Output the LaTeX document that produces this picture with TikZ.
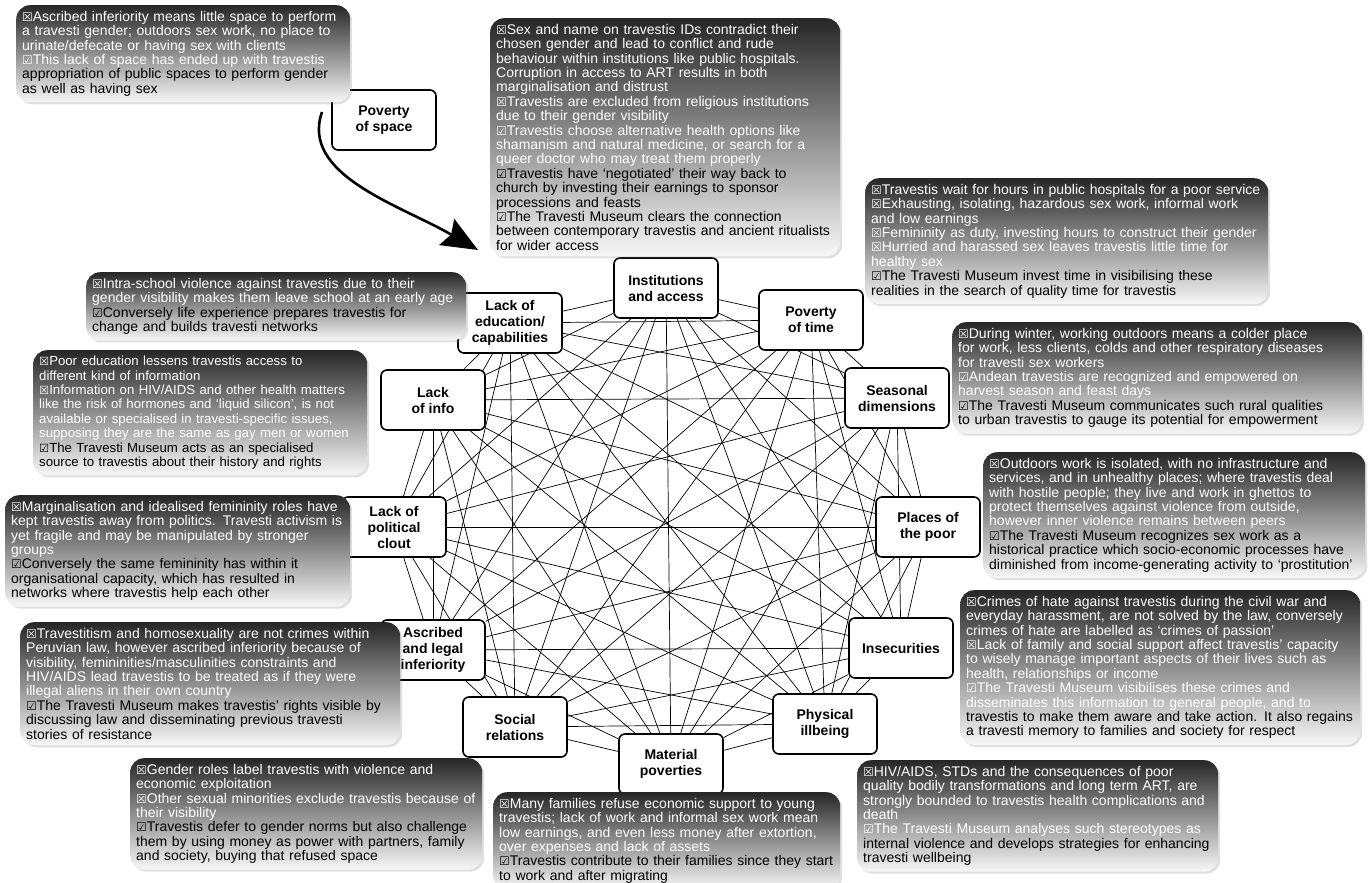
\documentclass[tikz,border=0pt]{standalone}
\usepackage{fontspec}
\setmainfont{Liberation Sans}
\newfontfamily\symfont[Scale=0.85]{DejaVu Sans}
\usetikzlibrary{arrows.meta,backgrounds,shadows}
\newcommand{\nocheck}{{\symfont ☒}}
\newcommand{\yescheck}{{\symfont ☑}}
\hyphenpenalty=10000
\exhyphenpenalty=10000

\begin{document}
\begin{tikzpicture}[
        x=1pt,
        y=-1pt,
        every node/.style={font=\fontsize{14}{14.4}\selectfont},
        factor/.style={
            draw,
            line width=1.6pt,
            rounded corners=6pt,
            fill=white,
            align=center,
            minimum width=104pt,
            minimum height=60pt,
            inner sep=2pt,
            font=\fontsize{14}{16}\selectfont\bfseries
        },
        note/.style={
            anchor=north west,
            rounded corners=14pt,
            top color=black!85,
            bottom color=black!3,
            text=white,
            align=left,
            inner xsep=6pt,
            inner ysep=6pt,
            drop shadow={opacity=0.25, shadow xshift=2pt, shadow yshift=-2pt}
        },
        link/.style={line width=0.7pt},
        bigarrow/.style={line width=2.6pt, -{Stealth[length=36pt,width=30pt,inset=5pt]}}
    ]
    \useasboundingbox (0,0) rectangle (1368,883);

    % Factors
    \node[factor] (inst) at (666,288) {Institutions\\and access};
    \node[factor] (time) at (811,320) {Poverty\\of time};
    \node[factor] (season) at (897,398) {Seasonal\\dimensions};
    \node[factor] (places) at (928,527) {Places of\\the poor};
    \node[factor] (insec) at (901,648) {Insecurities};
    \node[factor] (phys) at (825,724) {Physical\\illbeing};
    \node[factor] (mat) at (671,764) {Material\\poverties};
    \node[factor] (social) at (515,727) {Social\\relations};
    \node[factor] (ascr) at (433,650) {Ascribed\\and legal\\inferiority};
    \node[factor] (polit) at (394,527) {Lack of\\political\\clout};
    \node[factor] (info) at (433,400) {Lack\\of info};
    \node[factor] (edu) at (510,323) {Lack of\\education/\\capabilities};
    \node[factor] (space) at (384,120) {Poverty\\of space};

    % Links between all factors
    \begin{pgfonlayer}{background}
    \foreach \a [count=\i] in {inst,time,season,places,insec,phys,mat,social,ascr,polit,info,edu}
        \foreach \b [count=\j] in {inst,time,season,places,insec,phys,mat,social,ascr,polit,info,edu}
            {\ifnum\j>\i \draw[link] (\a) -- (\b); \fi}
    \end{pgfonlayer}

    % Arrow from poverty of space
    \coordinate (arrS) at (322,112);
    \coordinate (arrE) at (478,250);
    \draw[bigarrow] (arrS) .. controls (300,175) and (400,205) .. (arrE);

    % Notes
    \node[note, text width=322pt] (nspace) at (16,5) {\nocheck Ascribed inferiority means little space to perform\\
        a travesti gender; outdoors sex work, no place to\\
        urinate/defecate or having sex with clients\\
        \yescheck This lack of space has ended up with travestis\\
        \color{black}appropriation of public spaces to perform gender\\
        as well as having sex};

    \node[note, text width=338pt] (ninst) at (490,18) {\nocheck Sex and name on travestis IDs contradict their\\
        chosen gender and lead to conflict and rude\\
        behaviour within institutions like public hospitals.\\
        Corruption in access to ART results in both\\
        marginalisation and distrust\\
        \nocheck Travestis are excluded from religious institutions\\
        due to their gender visibility\\
        \yescheck Travestis choose alternative health options like\\
        shamanism and natural medicine, or search for a\\
        queer doctor who may treat them properly\\
        \color{black}\yescheck Travestis have ‘negotiated’ their way back to\\
        church by investing their earnings to sponsor\\
        processions and feasts\\
        \yescheck The Travesti Museum clears the connection\\
        between contemporary travestis and ancient ritualists\\
        for wider access};

    \node[note, text width=391pt] (ntime) at (865,178) {\nocheck Travestis wait for hours in public hospitals for a poor service\\
        \nocheck Exhausting, isolating, hazardous sex work, informal work\\
        and low earnings\\
        \nocheck Femininity as duty, investing hours to construct their gender\\
        \nocheck Hurried and harassed sex leaves travestis little time for\\
        healthy sex\\
        \color{black}\yescheck The Travesti Museum invest time in visibilising these\\
        realities in the search of quality time for travestis};

    \node[note, text width=398pt] (nseason) at (952,322) {\nocheck During winter, working outdoors means a colder place\\
        for work, less clients, colds and other respiratory diseases\\
        for travesti sex workers\\
        \yescheck Andean travestis are recognized and empowered on\\
        harvest season and feast days\\
        \color{black}\yescheck The Travesti Museum communicates such rural qualities\\
        to urban travestis to gauge its potential for empowerment};

    \node[note, text width=370pt] (nplaces) at (983,452) {\nocheck Outdoors work is isolated, with no infrastructure and\\
        services, and in unhealthy places; where travestis deal\\
        with hostile people; they live and work in ghettos to\\
        protect themselves against violence from outside,\\
        however inner violence remains between peers\\
        \color{black}\yescheck The Travesti Museum recognizes sex work as a\\
        historical practice which socio-economic processes have\\
        diminished from income-generating activity to ‘prostitution’};

    \node[note, text width=388pt] (ninsec) at (960,590) {\nocheck Crimes of hate against travestis during the civil war and\\
        everyday harassment, are not solved by the law, conversely\\
        crimes of hate are labelled as ‘crimes of passion’\\
        \nocheck Lack of family and social support affect travestis’ capacity\\
        to wisely manage important aspects of their lives such as\\
        health, relationships or income\\
        \yescheck The Travesti Museum visibilises these crimes and\\
        disseminates this information to general people, and to\\
        \color{black}travestis to make them aware and take action. It also regains\\
        a travesti memory to families and society for respect};

    \node[note, text width=349pt] (nphys) at (857,760) {\nocheck HIV/AIDS, STDs and the consequences of poor\\
        quality bodily transformations and long term ART, are\\
        strongly bounded to travestis health complications and\\
        death\\
        \yescheck The Travesti Museum analyses such stereotypes as\\
        \color{black}internal violence and develops strategies for enhancing\\
        travesti wellbeing};

    \node[note, text width=335pt] (nmat) at (493,792) {\nocheck Many families refuse economic support to young\\
        travestis; lack of work and informal sex work mean\\
        low earnings, and even less money after extortion,\\
        over expenses and lack of assets\\
        \color{black}\yescheck Travestis contribute to their families since they start\\
        to work and after migrating};

    \node[note, text width=340pt] (nsocial) at (130,758) {\nocheck Gender roles label travestis with violence and\\
        economic exploitation\\
        \nocheck Other sexual minorities exclude travestis because of\\
        their visibility\\
        \color{black}\yescheck Travestis defer to gender norms but also challenge\\
        them by using money as power with partners, family\\
        and society, buying that refused space};

    \node[note, text width=368pt] (nascr) at (20,622) {\nocheck Travestitism and homosexuality are not crimes within\\
        Peruvian law, however ascribed inferiority because of\\
        visibility, femininities/masculinities constraints and\\
        HIV/AIDS lead travestis to be treated as if they were\\
        illegal aliens in their own country\\
        \color{black}\yescheck The Travesti Museum makes travestis’ rights visible by\\
        discussing law and disseminating previous travesti\\
        stories of resistance};

    \node[note, text width=333pt] (npolit) at (5,495) {\nocheck Marginalisation and idealised femininity roles have\\
        kept travestis away from politics. Travesti activism is\\
        yet fragile and may be manipulated by stronger\\
        groups\\
        \color{black}\yescheck Conversely the same femininity has within it\\
        organisational capacity, which has resulted in\\
        networks where travestis help each other};

    \node[note, text width=322pt, font=\fontsize{13.2}{14.4}\selectfont] (ninfo) at (33,350) {\nocheck Poor education lessens travestis access to\\
        different kind of information\\
        \nocheck Information on HIV/AIDS and other health matters\\
        like the risk of hormones and ‘liquid silicon’, is not\\
        available or specialised in travesti-specific issues,\\
        supposing they are the same as gay men or women\\
        \color{black}\yescheck The Travesti Museum acts as an specialised\\
        source to travestis about their history and rights};

    \node[note, text width=368pt] (nedu) at (86,272) {\nocheck Intra-school violence against travestis due to their\\
        gender visibility makes them leave school at an early age\\
        \color{black}\yescheck Conversely life experience prepares travestis for\\
        change and builds travesti networks};

\end{tikzpicture}
\end{document}
